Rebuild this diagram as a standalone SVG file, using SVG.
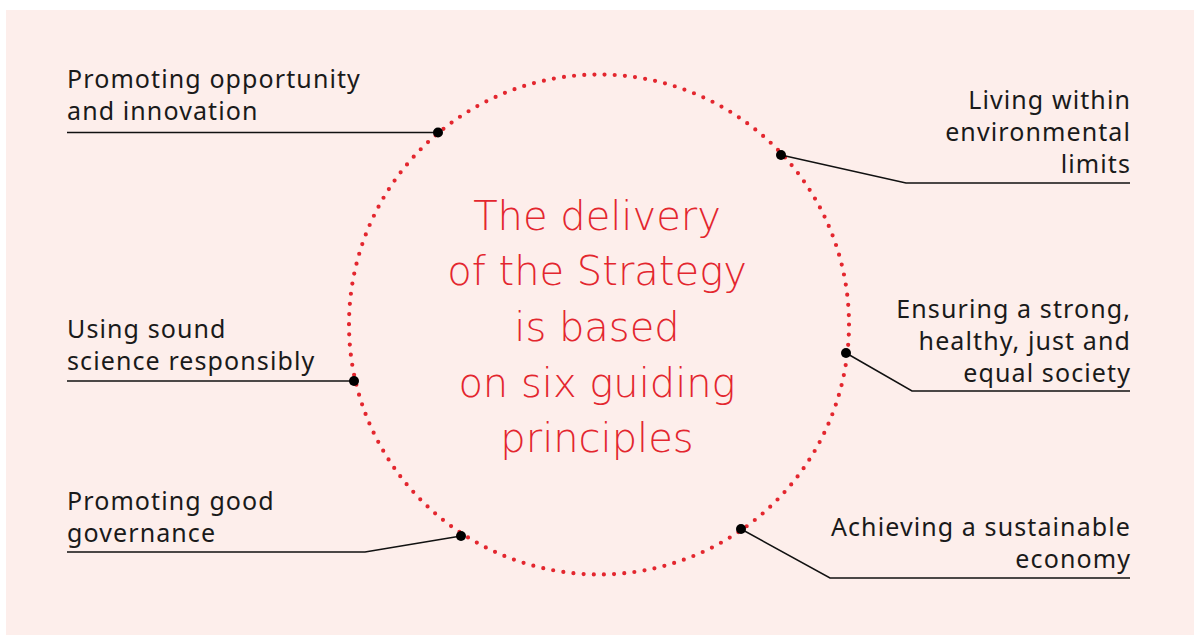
<svg xmlns="http://www.w3.org/2000/svg" width="1194" height="635" viewBox="0 0 1194 635">
<style>
.lbl{font-family:"Noto Sans","Liberation Sans",sans-serif;font-size:25px;letter-spacing:1.1px;fill:#1a1a1a}
.r{text-anchor:end}
.ctr{font-family:"DejaVu Sans","Noto Sans",sans-serif;font-size:40px;font-weight:200;fill:#e3262e;text-anchor:middle}
.ln{fill:none;stroke:#111;stroke-width:1.5}
.dot{fill:#000}
</style>
<rect x="6" y="10" width="1188" height="625" fill="#fdeeeb"/>
<g id="circle">
<circle cx="599" cy="324.5" r="250" fill="none" stroke="#e3262e" stroke-width="4.2" stroke-linecap="round" stroke-dasharray="0 10.2"/>
</g>
<g id="center">
<text class="ctr" x="597" y="230">The delivery</text>
<text class="ctr" x="597" y="285">of the Strategy</text>
<text class="ctr" x="597" y="341">is based</text>
<text class="ctr" x="597" y="397">on six guiding</text>
<text class="ctr" x="597" y="452">principles</text>
</g>
<g id="connectors">
<polyline class="ln" points="67,132.5 438,132.5"/>
<polyline class="ln" points="781,155 906,183 1130,183"/>
<polyline class="ln" points="846,353 912,391 1130,391"/>
<polyline class="ln" points="741,529 830,578 1130,578"/>
<polyline class="ln" points="461,536 365,552 67,552"/>
<polyline class="ln" points="67,381 354,381"/>
</g>
<g id="n1">
<circle class="dot" cx="438" cy="132.5" r="5"/>
<text class="lbl" x="67" y="88">Promoting opportunity</text>
<text class="lbl" x="67" y="120">and innovation</text>
</g>
<g id="n2">
<circle class="dot" cx="781" cy="155" r="5"/>
<text class="lbl r" x="1131" y="109">Living within</text>
<text class="lbl r" x="1131" y="141">environmental</text>
<text class="lbl r" x="1131" y="173">limits</text>
</g>
<g id="n3">
<circle class="dot" cx="846" cy="353" r="5"/>
<text class="lbl r" x="1131" y="318">Ensuring a strong,</text>
<text class="lbl r" x="1131" y="350">healthy, just and</text>
<text class="lbl r" x="1131" y="382">equal society</text>
</g>
<g id="n4">
<circle class="dot" cx="741" cy="529" r="5"/>
<text class="lbl r" x="1131" y="536">Achieving a sustainable</text>
<text class="lbl r" x="1131" y="568">economy</text>
</g>
<g id="n5">
<circle class="dot" cx="461" cy="536" r="5"/>
<text class="lbl" x="67" y="510">Promoting good</text>
<text class="lbl" x="67" y="542">governance</text>
</g>
<g id="n6">
<circle class="dot" cx="354" cy="381" r="5"/>
<text class="lbl" x="67" y="338">Using sound</text>
<text class="lbl" x="67" y="370">science responsibly</text>
</g>
</svg>
